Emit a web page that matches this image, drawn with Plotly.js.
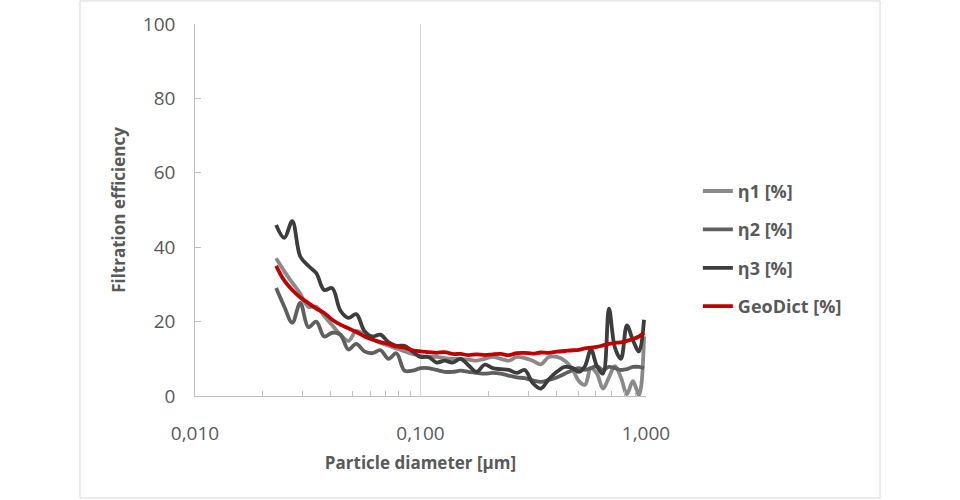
<!DOCTYPE html>
<html>
<head>
<meta charset="utf-8">
<script src="https://cdn.plot.ly/plotly-3.0.1.min.js"></script>
<style>
  html, body { margin: 0; padding: 0; background: #fff; }
  #chart { width: 960px; height: 500px; }
</style>
</head>
<body>
<div id="chart"></div>
<script>
// particle diameter [µm]
var diameter = [0.0229, 0.0249, 0.0270, 0.0293, 0.0318, 0.0345, 0.0374, 0.0406, 0.0441, 0.0479,
                0.0519, 0.0564, 0.0612, 0.0664, 0.0721, 0.0782, 0.0849, 0.0921, 0.100, 0.1085,
                0.1178, 0.1279, 0.1388, 0.1506, 0.1635, 0.1774, 0.1925, 0.2089, 0.2268, 0.2461,
                0.2671, 0.2899, 0.3146, 0.3415, 0.3706, 0.4022, 0.4365, 0.4737, 0.504, 0.536,
                0.570, 0.606, 0.644, 0.685, 0.728, 0.774, 0.823, 0.875, 0.931, 0.980];

var eta1 = [37, 33.5, 30.5, 27.5, 24, 24, 21.5, 19, 16.5, 14.8,
            17.5, 16.5, 15.2, 14.3, 13.5, 12.8, 12, 11.3, 10.8, 10.5,
            10.5, 10.2, 10, 10, 9.8, 9.5, 10, 10.5, 10, 9.5,
            10.5, 10.2, 9.5, 8.5, 10.5, 10.5, 9.5, 7, 4, 3,
            7.5, 6, 2, 5, 8, 5, 0.5, 4, 0.3, 16];

var eta2 = [29, 24, 19.7, 25, 18.5, 20, 16, 17, 16.5, 12.5,
            14, 12, 11.5, 12.3, 10, 11.5, 6.8, 6.8, 7.5, 7.5,
            7, 6.5, 6.5, 6.8, 6.5, 6.2, 6, 6.2, 6, 5.5,
            5, 4.8, 4.2, 3.8, 4.3, 5, 6, 7, 7.5, 7,
            7.5, 8, 7, 7.8, 7.5, 7, 7.2, 7.8, 7.8, 7.5];

var eta3 = [46, 42.5, 47, 37.5, 35, 33, 28.5, 29, 23, 21,
            22, 17.5, 16, 16.5, 14.5, 13.5, 13.5, 12, 10.5, 10.5,
            9, 9.5, 9, 10, 8.2, 6.5, 8.4, 7.5, 7.2, 7,
            6.2, 7, 3.5, 2, 4.5, 6.5, 7.8, 7.5, 6.5, 8,
            12.5, 8, 6, 23.5, 13, 10, 19, 15, 12, 20.5];

var geodict = [35, 31, 28.5, 26.5, 25, 23.5, 22.3, 20.5, 19.2, 18.2,
               17.2, 16, 15.2, 14.5, 14, 13.3, 13, 12.3, 12, 11.8,
               11.6, 11.8, 11.3, 11.3, 11, 11.2, 11, 11.2, 11.3, 11,
               11.5, 11.6, 11.4, 11.7, 11.6, 11.9, 12.1, 12.3, 12.4, 12.8,
               13, 13.2, 13.6, 14, 14.3, 14.4, 14.8, 15.3, 16, 17];

// minor tick positions on the log axis
var minorTicks = [0.02, 0.03, 0.04, 0.05, 0.06, 0.07, 0.08, 0.09,
                  0.2, 0.3, 0.4, 0.5, 0.6, 0.7, 0.8, 0.9];

var seriesNames = ['η1 [%]', 'η2 [%]', 'η3 [%]', 'GeoDict [%]'];
var seriesData = [eta1, eta2, eta3, geodict];
var seriesColors = ['#8a8a8a', '#5f5f5f', '#3d3d3d', '#c00000'];

var font = 'Open Sans, Noto Sans, sans-serif';
var textColor = '#595959';
var axisColor = '#bfbfbf';

var data = [];
for (var i = 0; i < seriesData.length; i++) {
    data.push({
        x: diameter,
        y: seriesData[i],
        name: seriesNames[i],
        legendgroup: 'g' + i,
        mode: 'lines',
        type: 'scatter',
        line: { color: seriesColors[i], width: 3.8, shape: 'spline', smoothing: 1 }
    });
}

var layout = {
    width: 960,
    height: 500,
    margin: { l: 195, r: 314, t: 24, b: 104 },
    separators: ',.',
    paper_bgcolor: '#ffffff',
    plot_bgcolor: '#ffffff',
    font: { family: font, color: textColor, size: 18 },
    showlegend: true,
    legend: {
        x: 1.115, y: 0.6, xanchor: 'left', yanchor: 'top',
        font: { family: font, size: 18, color: textColor, weight: 'bold' },
        tracegroupgap: 12,
        bgcolor: 'rgba(0,0,0,0)'
    },
    xaxis: {
        type: 'log',
        range: [-2, 0],
        tickmode: 'linear',
        tick0: 0,
        dtick: 1,
        tickformat: '.3f',
        // transparent outside ticks only push the labels down
        ticks: 'outside',
        ticklen: 20,
        tickcolor: 'rgba(0,0,0,0)',
        tickfont: { family: font, size: 19, color: textColor },
        showline: true,
        linecolor: axisColor,
        linewidth: 1,
        showgrid: true,
        gridcolor: '#d9d9d9',
        zeroline: false,
        minor: {
            tickmode: 'array',
            tickvals: minorTicks,
            ticks: 'inside',
            ticklen: 5,
            tickwidth: 1,
            tickcolor: axisColor,
            showgrid: false
        },
        title: {
            text: 'Particle diameter [µm]',
            font: { family: font, size: 17, color: textColor, weight: 'bold' },
            standoff: 12
        }
    },
    yaxis: {
        range: [0, 100],
        dtick: 20,
        ticks: 'inside',
        ticklen: 6,
        tickwidth: 1,
        tickcolor: axisColor,
        ticksuffix: '\u00a0\u00a0\u00a0',
        tickfont: { family: font, size: 19, color: textColor },
        showline: true,
        linecolor: axisColor,
        linewidth: 1,
        showgrid: false,
        zeroline: false,
        title: {
            text: 'Filtration efficiency',
            font: { family: font, size: 17, color: textColor, weight: 'bold' },
            standoff: 12
        }
    },
    shapes: [{
        type: 'rect', xref: 'paper', yref: 'paper',
        x0: -0.255, x1: 1.519, y0: -0.274, y1: 1.062,
        line: { color: '#d9d9d9', width: 1 }
    }]
};

Plotly.newPlot('chart', data, layout, { displayModeBar: false, staticPlot: true });
</script>
</body>
</html>
